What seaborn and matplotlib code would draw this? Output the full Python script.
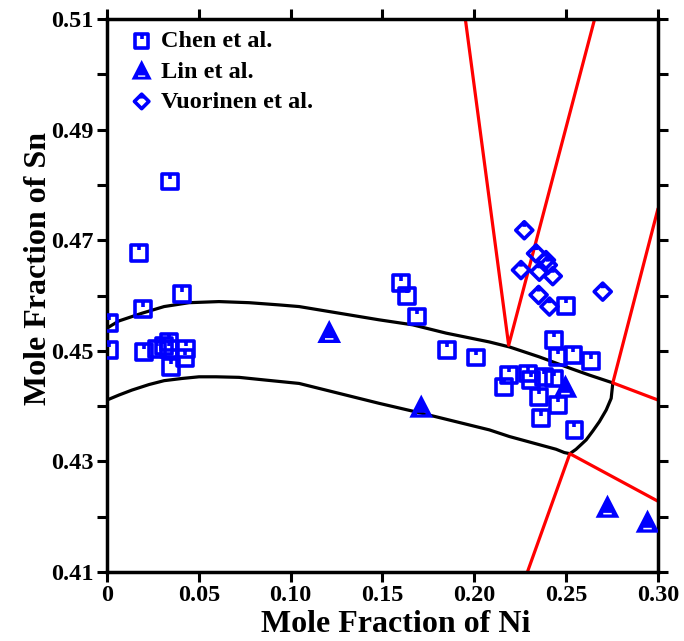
import numpy as np
import pandas as pd
import matplotlib
matplotlib.use("Agg")
import matplotlib.pyplot as plt
from matplotlib.path import Path
from matplotlib.ticker import MultipleLocator, FixedLocator, FixedFormatter
import seaborn as sns

# ---------------- data ----------------
chen_ni = [0.0343, 0.0174, 0.0410, 0.0198, 0.0010, 0.0010, 0.0202, 0.0274, 0.0310,
           0.0338, 0.0338, 0.0432, 0.0425, 0.0347,
           0.1600, 0.1633, 0.1688, 0.1851, 0.2009,
           0.2500, 0.2436, 0.2454, 0.2536, 0.2636, 0.2191, 0.2163, 0.2291, 0.2309,
           0.2381, 0.2436, 0.2354, 0.2454, 0.2363, 0.2545]
chen_sn = [0.4806, 0.4677, 0.4602, 0.4575, 0.4550, 0.4501, 0.4498, 0.4504, 0.4508,
           0.4516, 0.4504, 0.4504, 0.4487, 0.4471,
           0.4622, 0.4599, 0.4562, 0.4501, 0.4488,
           0.4581, 0.4520, 0.4489, 0.4492, 0.4481, 0.4456, 0.4435, 0.4459, 0.4447,
           0.4453, 0.4450, 0.4417, 0.4402, 0.4378, 0.4357]

lin_ni = [0.1210, 0.1711, 0.2496, 0.2725, 0.2943]
lin_sn = [0.4532, 0.4397, 0.4433, 0.4216, 0.4189]

vuo_ni = [0.2272, 0.2336, 0.2390, 0.2400, 0.2254, 0.2354, 0.2427, 0.2350, 0.2409, 0.2699]
vuo_sn = [0.4718, 0.4676, 0.4664, 0.4655, 0.4646, 0.4643, 0.4635, 0.4601, 0.4580, 0.4607]

upper_ni = [0.0, 0.0065, 0.0191, 0.0311, 0.0447, 0.0610, 0.0774, 0.0937, 0.1046,
            0.1482, 0.1664, 0.1846, 0.2082, 0.2191, 0.2354, 0.2500, 0.2627, 0.2754]
upper_sn = [0.4541, 0.4554, 0.4568, 0.4580, 0.4587, 0.4589, 0.4587, 0.4583, 0.4580,
            0.4556, 0.4547, 0.4532, 0.4516, 0.4507, 0.4489, 0.4471, 0.4456, 0.4442]

lower_ni = [0.0, 0.0065, 0.0136, 0.0229, 0.0311, 0.0409, 0.0501, 0.0594, 0.0719,
            0.0866, 0.1046, 0.1482, 0.1715, 0.2082, 0.2191, 0.2445, 0.2490, 0.2520,
            0.2554, 0.2609, 0.2645, 0.2681, 0.2718, 0.2745, 0.2754]
lower_sn = [0.4411, 0.4420, 0.4429, 0.4439, 0.4446, 0.4450, 0.4453, 0.4453, 0.4452,
            0.4447, 0.4441, 0.4405, 0.4387, 0.4357, 0.4345, 0.4322, 0.4316, 0.4314,
            0.4322, 0.4339, 0.4355, 0.4372, 0.4393, 0.4414, 0.4442]

red_v_ni = [0.1951, 0.2187, 0.2655]
red_v_sn = [0.5100, 0.4510, 0.5100]
red_right_ni = [0.3000, 0.2754, 0.3000]
red_right_sn = [0.4757, 0.4442, 0.4411]
red_low_ni = [0.2289, 0.2520, 0.3000]
red_low_sn = [0.4100, 0.4314, 0.4228]

xtick_vals = [0.0, 0.05, 0.10, 0.15, 0.20, 0.25, 0.30]
xtick_labels = ["0", "0.05", "0.10", "0.15", "0.20", "0.25", "0.30"]
ytick_vals = [0.41, 0.43, 0.45, 0.47, 0.49, 0.51]
ytick_labels = ["0.41", "0.43", "0.45", "0.47", "0.49", "0.51"]

# ---------------- style ----------------
sns.set_style("ticks")
plt.rcParams['font.family'] = ['Liberation Serif', 'DejaVu Serif']
plt.rcParams['font.weight'] = 'bold'
plt.rcParams['axes.labelweight'] = 'bold'
plt.rcParams['text.color'] = 'black'
plt.rcParams['axes.labelcolor'] = 'black'
plt.rcParams['xtick.color'] = 'black'
plt.rcParams['ytick.color'] = 'black'

BLUE = "#0000FF"
RED = "#FF0000"

fig = plt.figure(figsize=(6.84, 6.41), dpi=100)
ax = fig.add_axes([0.1564, 0.1076, 0.9620 - 0.1564, 0.9704 - 0.1076])

# custom markers with notch
sq_path = Path([(-1, -1), (1, -1), (1, 1), (-1, 1), (-1, -1), (0, 1), (0, 0.35)],
               [Path.MOVETO, Path.LINETO, Path.LINETO, Path.LINETO, Path.CLOSEPOLY,
                Path.MOVETO, Path.LINETO])
dm_path = Path([(0, -1), (1, 0), (0, 1), (-1, 0), (0, -1), (0, 1), (0, 0.4)],
               [Path.MOVETO, Path.LINETO, Path.LINETO, Path.LINETO, Path.CLOSEPOLY,
                Path.MOVETO, Path.LINETO])
tri_path = Path([(0, 1), (-0.9, -0.75), (0.9, -0.75), (0, 1),
                 (-0.32, -0.5), (-0.32, -0.38), (0.32, -0.38), (0.32, -0.5), (-0.32, -0.5)],
                [Path.MOVETO, Path.LINETO, Path.LINETO, Path.CLOSEPOLY,
                 Path.MOVETO, Path.LINETO, Path.LINETO, Path.LINETO, Path.CLOSEPOLY])

# boundary lines
def seg(xs, ys, color):
    sns.lineplot(x=xs, y=ys, sort=False, estimator=None, color=color,
                 linewidth=2.3, ax=ax, legend=False)

seg(upper_ni, upper_sn, "black")
seg(lower_ni, lower_sn, "black")
seg(red_v_ni, red_v_sn, RED)
seg(red_right_ni, red_right_sn, RED)
seg(red_low_ni, red_low_sn, RED)

sns.scatterplot(x=chen_ni, y=chen_sn, marker=sq_path, s=130, facecolors="none",
                edgecolor=BLUE, linewidth=2.6, ax=ax, label="Chen et al.", zorder=5)
sns.scatterplot(x=lin_ni, y=lin_sn, marker=tri_path, s=360, color=BLUE,
                edgecolor="none", linewidth=0, ax=ax, label="Lin et al.", zorder=5)
sns.scatterplot(x=vuo_ni, y=vuo_sn, marker=dm_path, s=150, facecolors="none",
                edgecolor=BLUE, linewidth=2.6, ax=ax, label="Vuorinen et al.", zorder=5)

ax.set_xlim(0, 0.30)
ax.set_ylim(0.41, 0.51)
ax.xaxis.set_major_locator(FixedLocator(xtick_vals))
ax.xaxis.set_major_formatter(FixedFormatter(xtick_labels))
ax.yaxis.set_major_locator(FixedLocator(ytick_vals))
ax.yaxis.set_major_formatter(FixedFormatter(ytick_labels))
ax.yaxis.set_minor_locator(MultipleLocator(0.01))

for s in ax.spines.values():
    s.set_linewidth(2.5)
    s.set_color("black")
ax.tick_params(which="both", direction="out", length=7.5, width=2.2,
               top=True, right=True, labelsize=17.5, colors="black", pad=2)
for lab in ax.get_xticklabels() + ax.get_yticklabels():
    lab.set_fontweight("bold")

ax.set_xlabel("Mole Fraction of Ni", fontsize=23, fontweight="bold", color="black")
ax.set_ylabel("Mole Fraction of Sn", fontsize=23, fontweight="bold", color="black")
ax.xaxis.set_label_coords(0.5245, -0.069)
ax.yaxis.set_label_coords(-0.098, 0.548)

leg = ax.legend(loc="upper left", bbox_to_anchor=(0.01, 1.006), frameon=False,
                fontsize=17.5, handletextpad=0.2, labelspacing=0.34,
                borderaxespad=0.2, handlelength=1.2, markerscale=0.85)
for t in leg.get_texts():
    t.set_fontweight("bold")
    t.set_color("black")

fig.savefig("out.png", dpi=100)
